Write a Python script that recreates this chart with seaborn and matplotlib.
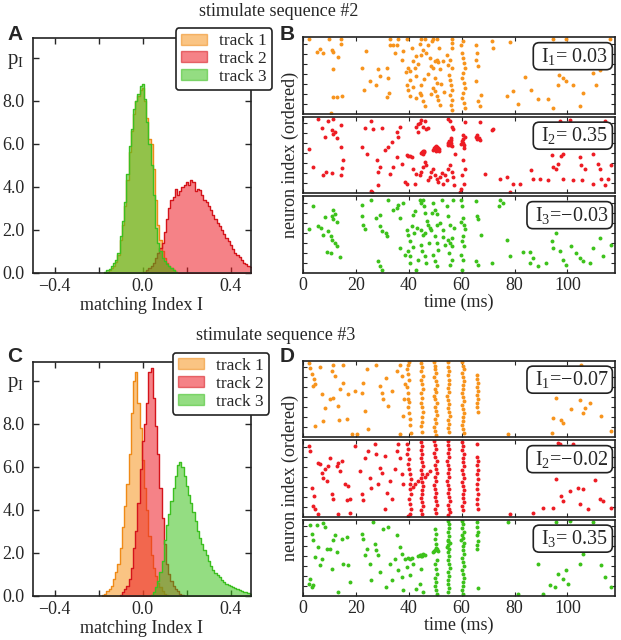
import numpy as np
import pandas as pd
import matplotlib
matplotlib.use('Agg')
import matplotlib.pyplot as plt
import seaborn as sns
from matplotlib.patches import Patch

# ---- histogram data (density per 0.01 bin, first bin centre given) ----
a1_start = -0.16
a1_dens = [0.05, 0.1, 0.2, 0.3, 0.5, 0.8, 1.5, 2.2, 3.1, 4.3, 5.6, 6.6, 7.4, 8.0, 8.2, 8.5,
           8.6, 8.0, 7.2, 6.2, 6.0, 4.8, 3.4, 2.2, 1.5, 1.0, 0.7, 0.45, 0.3, 0.2, 0.1, 0.05]
a2_start = 0.01
a2_dens = [0.05, 0.1, 0.2, 0.3, 0.45, 0.7, 0.9, 1.15, 1.4, 1.9, 2.5, 3.0, 3.4, 3.5, 3.9, 3.6,
           3.8, 4.0, 4.1, 4.2, 4.1, 4.3, 4.2, 3.8, 3.9, 3.85, 3.6, 3.4, 3.3, 3.1, 2.9, 2.7,
           2.5, 2.3, 2.15, 2.0, 1.8, 1.6, 1.45, 1.3, 1.1, 0.9, 0.8, 0.75, 0.6, 0.45, 0.4, 0.3, 0.25]
a3_start = -0.17
a3_dens = [0.05, 0.1, 0.15, 0.3, 0.45, 0.6, 0.9, 1.7, 2.4, 3.3, 4.6, 5.9, 6.7, 7.6, 8.0, 8.3,
           8.7, 8.8, 8.1, 7.0, 6.0, 5.0, 3.6, 2.1, 1.4, 1.0, 0.7, 0.55, 0.4, 0.3, 0.2, 0.1, 0.05]

c1_start = -0.18
c1_dens = [0.05, 0.1, 0.2, 0.3, 0.45, 0.8, 1.1, 1.5, 2.2, 3.2, 4.2, 5.2, 6.6, 8.5, 10.0, 10.4,
           9.0, 7.8, 6.3, 5.0, 4.0, 2.8, 1.9, 1.3, 0.9, 0.6, 0.4, 0.2, 0.1, 0.05]
c2_start = -0.10
c2_dens = [0.05, 0.15, 0.3, 0.45, 0.8, 1.3, 2.2, 3.0, 4.3, 5.9, 7.2, 8.0, 9.0, 10.4, 10.6, 9.2,
           7.9, 6.6, 5.0, 3.6, 2.4, 1.5, 1.0, 0.7, 0.45, 0.3, 0.2, 0.1, 0.05]
c3_start = 0.04
c3_dens = [0.05, 0.15, 0.4, 0.7, 1.1, 1.6, 2.6, 3.3, 3.8, 4.4, 5.0, 5.6, 6.1, 6.25, 6.0, 5.6,
           5.1, 4.7, 4.3, 3.9, 3.5, 3.0, 2.7, 2.4, 2.15, 1.9, 1.6, 1.4, 1.2, 1.05, 0.95, 0.85,
           0.75, 0.65, 0.55, 0.5, 0.45, 0.4, 0.35, 0.3, 0.25, 0.2, 0.18, 0.15, 0.12, 0.1]

# ---- raster data: (time in ms, neuron index) ----
b1_spikes = [
    (2.4, 75), (10, 75), (14.2, 75), (32.9, 75), (36, 75), (39.2, 75), (44.8, 75), (46.1, 75),
    (49.2, 75), (50.5, 75), (56.2, 75), (60.6, 73), (71.3, 73), (78.2, 72), (94.6, 75), (99.6, 75),
    (116, 75), (5.4, 62), (6.4, 65), (7.4, 61), (10.8, 64), (11.5, 62), (14.2, 70), (13.4, 57),
    (11.5, 45), (22.5, 46), (23.8, 63), (25.3, 33), (27.8, 29), (28.5, 45), (29.1, 38), (31.6, 46),
    (32.2, 36), (32.9, 69), (34.1, 69), (35.4, 69), (34.8, 61), (37.3, 54), (37.9, 63), (38.9, 42),
    (39.8, 46), (40.4, 43), (41.1, 66), (41.7, 53), (42.3, 46), (42.9, 38), (40.4, 34), (39.2, 29),
    (39.8, 24), (40.4, 18), (42.9, 16), (44.2, 21), (44.8, 19), (45.5, 13), (46.1, 8), (44.5, 29),
    (44.8, 59), (45.5, 64), (46.7, 61), (47.4, 69), (48, 56), (48.6, 48), (49.2, 46), (49.9, 53),
    (50.5, 54), (51.1, 52), (51.8, 45), (49.9, 36), (50.5, 31), (49.2, 26), (49.9, 23), (50.5, 18),
    (51.1, 14), (51.8, 9), (53, 53), (54.3, 59), (54.9, 49), (55.5, 54), (56.2, 46), (55.3, 39),
    (55.5, 34), (55.8, 29), (56.2, 24), (55.5, 19), (56.2, 14), (55.9, 9), (56.5, 4), (56.2, 66),
    (56.5, 71), (59.9, 69), (60.3, 61), (60.6, 56), (60.8, 51), (61.2, 46), (60.6, 41), (60.3, 36),
    (60.8, 31), (61.2, 26), (60.6, 21), (60.3, 16), (60.8, 11), (61.2, 6), (65.6, 69), (65.9, 61),
    (66.2, 48), (65.6, 54), (65.6, 33), (66.2, 13), (66.9, 8), (67.5, 19), (71.9, 66), (77, 18),
    (79.5, 23), (81.4, 10), (83.9, 37), (86.4, 24), (88.9, 15), (92.7, 15), (94.6, 6), (96.5, 29),
    (96.9, 39), (98.4, 36), (99.6, 33), (102.1, 29), (104.7, 8), (105.9, 21), (109.7, 41),
    (111, 29), (112.2, 44), (11.2, 17), (13, 17), (14.6, 18), (23.2, 24), (31.9, 17), (32.6, 21),
    (10.6, 1), (43.5, 50), (47.2, 40), (52.3, 30), (45.8, 35), (41.5, 27), (48.3, 20), (53.5, 22),
    (44.1, 70), (51.5, 66), (48.8, 73), (42.6, 58)]

b2_spikes = [
    (2.4, 44), (3.7, 26), (5.8, 75), (7.1, 65), (8.3, 56), (9.6, 73), (10.8, 63), (11.5, 75),
    (11.5, 59), (12.1, 61), (12.7, 55), (14.2, 68), (14.2, 46), (14.6, 25), (14.2, 18), (8.7, 21),
    (10.8, 20), (7.7, 18), (15.2, 33), (22.2, 46), (23.4, 65), (24.1, 39), (25.9, 73), (26.6, 64),
    (28.1, 33), (28.5, 21), (29.1, 26), (28.5, 8), (25.6, 2), (29.7, 65), (31, 43), (32.2, 46),
    (32.9, 19), (33.5, 51), (34.1, 26), (35.4, 36), (35.4, 61), (36, 56), (36.6, 66), (37.3, 29),
    (38.5, 11), (39.2, 9), (39.2, 38), (39.8, 37), (40.4, 37), (41.1, 36), (41.7, 24), (42.3, 9),
    (42.9, 66), (43.6, 69), (44.2, 71), (44.8, 74), (46.1, 73), (45.5, 66), (46.7, 64), (47.4, 65),
    (43.6, 61), (42.9, 19), (44.2, 18), (44.8, 21), (45.5, 26), (46.1, 31), (46.7, 28), (47.4, 13),
    (48, 16), (48.6, 21), (49.2, 24), (49.9, 18), (50.5, 14), (51.1, 11), (51.8, 16), (52.4, 20),
    (53, 9), (54.3, 13), (53.7, 18), (54.9, 24), (55.5, 28), (56.2, 21), (56.8, 16), (57.1, 8),
    (57.4, 39), (55.5, 73), (54.9, 75), (56.2, 66), (56.8, 64),
    (45, 40), (45.3, 42), (45.6, 41), (45.1, 41.5), (45.5, 39.5), (44.8, 40.5), (45.8, 42.5),
    (49.5, 45), (50, 44), (50.5, 43), (51, 45), (49.8, 46), (50.3, 42), (51.3, 44), (50.7, 46.5),
    (49.2, 43.5), (51.6, 42.5), (50.2, 47.5),
    (55, 50), (55.5, 48), (56, 50), (55.3, 52), (56.3, 47), (55.8, 53), (54.7, 48.5), (56.1, 55),
    (60.2, 52), (60.6, 50), (61, 48), (60.4, 54), (61.2, 56), (60.8, 45), (60.5, 58), (59.9, 49),
    (65.5, 56), (66, 54), (66.5, 55), (65.8, 58), (67, 53), (71.3, 63), (72, 64),
    (60.6, 33), (61.2, 24), (60.3, 18), (60.8, 9), (59.9, 4), (59.3, 1), (61.2, 72), (66.9, 72),
    (68.8, 19), (74.4, 14), (77, 16), (82, 9), (86.4, 23), (87, 14), (89.6, 14), (92.7, 13),
    (94, 38), (94.6, 26), (95.8, 24), (96.5, 29), (97.7, 37), (98.4, 39), (98.4, 14), (95.8, 69),
    (97.1, 73), (100.9, 74), (102.1, 13), (104.7, 36), (105.3, 28), (105.7, 13), (106.5, 24),
    (109.7, 39), (109.7, 9), (111.6, 29), (112.2, 24), (112.8, 14), (114.1, 73), (114.1, 8),
    (115.4, 14), (116.6, 28), (79.5, 9), (78.2, 1), (26, 1)]

b3_spikes = [
    (3.9, 67), (2.4, 44), (5.8, 47), (6.7, 45), (7.4, 38), (8.3, 56), (9.6, 42), (10.5, 37),
    (10.8, 57), (11.5, 63), (12.1, 59), (11.5, 54), (12.7, 51), (10.8, 33), (12.1, 30), (13, 27),
    (9, 21), (10.5, 20), (14, 16), (22.2, 68), (25.9, 73), (22.8, 48), (23.4, 44), (22.2, 57),
    (27.8, 55), (29.1, 58), (29.3, 47), (29.7, 42), (31.4, 40), (31.6, 37), (28.5, 12), (29.1, 7),
    (29.7, 3), (32.2, 73), (34.1, 63), (35.4, 65), (36, 68), (36.6, 55), (37.9, 70), (36.6, 25),
    (38.5, 18), (39.2, 43), (39.8, 38), (40.4, 32), (39.8, 22), (40.4, 17), (40.4, 10), (41.1, 47),
    (41.7, 58), (42.3, 62), (42.9, 3), (43.6, 13), (44.2, 73), (44.8, 70), (45.5, 73), (45.7, 67),
    (46.1, 60), (44.8, 43), (45.5, 38), (46.1, 40), (44.8, 28), (45.2, 22), (46.1, 17), (46.7, 10),
    (47.4, 48), (48, 45), (48.6, 43), (49.2, 70), (49.9, 63), (50.5, 59), (50.5, 48), (49.9, 37),
    (50.5, 30), (51.1, 23), (49.2, 18), (49.9, 12), (50.5, 7), (51.8, 50), (52.4, 73), (53, 43),
    (54.3, 67), (54.9, 57), (55.5, 48), (54.9, 33), (55.5, 30), (56.2, 27), (55.3, 20), (56.2, 13),
    (55.5, 8), (56.8, 73), (56.2, 35), (59.9, 73), (60.3, 67), (60.6, 55), (59.9, 51), (60.8, 48),
    (60.6, 37), (60.3, 32), (60.8, 27), (59.9, 18), (60.6, 13), (60.3, 3), (65.6, 72), (65.9, 57),
    (66.2, 54), (65.6, 12), (66.2, 8), (67.5, 38), (71.3, 10), (74.2, 67), (75.7, 70), (77, 33),
    (78.2, 17), (83.2, 21), (85.8, 21), (85.8, 10), (87, 15), (88.9, 7), (92.1, 10), (94, 32),
    (94.6, 25), (95.8, 40), (97.1, 22), (98.4, 13), (99.6, 8), (101.5, 27), (103.4, 20),
    (104.7, 15), (105.9, 12), (108.4, 10), (109.7, 25), (112.2, 35), (113.5, 17), (116.6, 28),
    (74.4, 73), (43.2, 45), (47.8, 30), (52.8, 36), (42.1, 40), (48.9, 60), (53.6, 28), (46.9, 52),
    (41.6, 26), (57.2, 45), (61.1, 44)]

d1_spikes = [
    (2.4, 75), (3.3, 63), (3.7, 51), (4.5, 53), (4.2, 58), (2.6, 69), (4.5, 11), (6.4, 71),
    (7.1, 43), (7.7, 16), (8.3, 29), (10.2, 38), (10.8, 66), (11.5, 73), (11.5, 39), (12.1, 61),
    (13.4, 31), (14, 48), (13.7, 17), (15, 73), (15.2, 54), (16.5, 18), (17.1, 43), (18.4, 3),
    (19.6, 46), (20.3, 3), (22.2, 44), (22.8, 54), (23.4, 26), (24.7, 8), (24.1, 68), (27.8, 73),
    (29.1, 51), (29.7, 44), (30.4, 38), (31.4, 59), (32.2, 31), (33.5, 46), (35.4, 66), (36.6, 73),
    (37.3, 61), (38.2, 38), (38.5, 53), (37.9, 21), (36.6, 3),
    (40.8, 4), (40.5, 12), (40.3, 18), (40, 24), (39.8, 30), (40.2, 35), (39.6, 38), (39.9, 44),
    (39.5, 50), (40.1, 57), (39.7, 63), (39.4, 68), (39.6, 73), (40, 76),
    (44.6, 75), (45, 70), (44.8, 66), (45.3, 61), (44.5, 57), (45, 53), (45.5, 48), (44.8, 44),
    (45.2, 39), (44.6, 34), (45, 30), (45.4, 25), (44.9, 20), (45.2, 15), (44.7, 11), (45, 5),
    (49.5, 76), (50, 72), (49.8, 68), (50.4, 64), (49.6, 60), (50.2, 56), (50.6, 52), (49.9, 48),
    (50.3, 45), (49.7, 41), (50.1, 38), (50.5, 34), (49.8, 30), (50.2, 26), (50.6, 22), (49.9, 18),
    (50.3, 14), (49.7, 10), (50, 6), (50.4, 2),
    (54.8, 76), (55, 71), (55.3, 66), (54.7, 62), (55.1, 57), (55.4, 53), (54.9, 49), (55.2, 45),
    (54.6, 41), (55, 37), (55.3, 33), (54.8, 29), (55.1, 25), (55.5, 21), (54.9, 17), (55.2, 13),
    (55, 9), (55.3, 5),
    (60.2, 76), (60.5, 72), (60.8, 68), (60.3, 64), (60.6, 60), (61, 56), (60.4, 52), (60.7, 48),
    (60.2, 44), (60.5, 40), (60.9, 36), (60.3, 32), (60.6, 28), (61, 24), (60.4, 20), (60.7, 16),
    (60.2, 12), (60.5, 8), (60.8, 4),
    (65.8, 62), (66, 58), (66.2, 54), (65.9, 50), (66.1, 46), (65.8, 42), (66.2, 38), (66, 34),
    (65.9, 30), (66.1, 25),
    (77.6, 3), (94.6, 19), (95.8, 39), (97.7, 17), (98.4, 14), (94, 4), (101.5, 28), (104.7, 37),
    (105.9, 24), (106.5, 29), (108.4, 34), (112.8, 21), (116.6, 6), (105.3, 73)]

d2_spikes = [
    (2.4, 71), (2.6, 66), (3.3, 29), (4.2, 21), (3.7, 11), (4.5, 8), (5.8, 54), (6.4, 53),
    (7.1, 44), (7.7, 39), (8.3, 48), (8.9, 36), (9.6, 51), (10.2, 59), (10.8, 23), (11.5, 18),
    (12.7, 51), (13.4, 54), (14, 46), (14.6, 56), (15.9, 33), (16.5, 17), (17.1, 31), (17.8, 18),
    (19.6, 71), (21.5, 46), (22.2, 23), (22.8, 17), (23.4, 59), (24.7, 66), (25.3, 39), (25.9, 29),
    (27.2, 73), (27.8, 63), (28.5, 33), (29.1, 49), (29.7, 44), (31, 61), (31.6, 24), (32.9, 36),
    (33.5, 18), (34.8, 48), (35.4, 66), (36, 73), (36.6, 59), (37.3, 43), (37.9, 33), (31, 8),
    (13.4, 3), (5.8, 3), (17.8, 4),
    (39.5, 73), (39.8, 68), (39.4, 63), (40, 58), (39.7, 53), (40.2, 48), (40.5, 43), (40.8, 38),
    (40.3, 33), (40.6, 28), (41, 23), (40.2, 18), (40.5, 13), (40.8, 8), (40.3, 3), (39.6, 1),
    (44.5, 75), (45, 71), (44.8, 67), (45.2, 63), (44.6, 59), (45, 55), (45.4, 51), (44.8, 47),
    (45.2, 43), (44.6, 39), (45, 35), (45.5, 31), (44.9, 27), (45.2, 23), (44.7, 19), (45.1, 15),
    (45.4, 11), (44.8, 7), (45, 3),
    (49.6, 76), (50, 72), (50.3, 68), (49.7, 64), (50.1, 60), (50.5, 56), (49.8, 52), (50.2, 48),
    (50.6, 44), (49.9, 40), (50.3, 36), (49.6, 32), (50, 28), (50.4, 24), (49.8, 20), (50.2, 16),
    (50.6, 12), (49.9, 8), (50.3, 4),
    (55, 76), (54.7, 72), (55.2, 68), (54.9, 64), (55.3, 60), (54.6, 56), (55, 52), (55.4, 48),
    (54.8, 44), (55.2, 40), (54.6, 36), (55, 32), (55.3, 28), (54.8, 24), (55.1, 20), (55.5, 16),
    (54.9, 12), (55.2, 8), (55.6, 5), (55, 2),
    (60.3, 75), (60.6, 71), (60.2, 67), (60.8, 63), (60.4, 59), (60.7, 55), (61, 51), (60.3, 47),
    (60.6, 43), (60.9, 39), (60.2, 35), (60.5, 31), (60.8, 27), (60.4, 23), (60.7, 19), (61, 15),
    (60.3, 11), (60.6, 7),
    (65.8, 73), (66, 60), (66.2, 56), (65.9, 52), (66.1, 47), (65.8, 43), (66.2, 38), (66, 33),
    (65.9, 28), (66.1, 23), (66, 18), (65.8, 13), (66.1, 8),
    (41.5, 30), (42.5, 33), (43.5, 36), (46, 40), (47, 43), (48, 46),
    (78.2, 3), (87, 4), (90.8, 9), (95.8, 38), (96.5, 74), (97.7, 21), (98.4, 16), (100.9, 26),
    (102.1, 73), (104, 29), (105.9, 28), (107.8, 8), (110.3, 37), (112.2, 18), (113.5, 16),
    (116.6, 9), (104.7, 13), (94.6, 9), (97.1, 73)]

d3_spikes = [
    (2.6, 71), (3.3, 62), (3.9, 56), (5.2, 71), (5.8, 49), (6.4, 31), (4.5, 39), (7.1, 37),
    (7.7, 73), (8.3, 69), (9, 47), (10.2, 47), (10.8, 27), (11.5, 56), (12.1, 61), (12.7, 44),
    (13.4, 4), (14.6, 57), (15.2, 32), (16.5, 59), (17.1, 31), (17.8, 14), (2.4, 12), (3.3, 9),
    (3.9, 11), (2.6, 17), (22.2, 62), (22.8, 57), (23.4, 41), (24.1, 47), (25.3, 32), (25.9, 16),
    (26.6, 74), (27.2, 52), (27.8, 46), (28.5, 41), (29.1, 24), (30.4, 67), (31.4, 9), (32.2, 69),
    (32.9, 32), (33.5, 16), (34.8, 37), (35.4, 61), (36, 26), (36.6, 49), (37.3, 42), (37.3, 19),
    (37.9, 6), (38.5, 37), (39.2, 29), (40.4, 21), (41.7, 32), (42.9, 7), (44.2, 12), (44.8, 27),
    (45.5, 4),
    (39.8, 38), (40.4, 37), (41.1, 38), (43.6, 40), (44.2, 41), (44.8, 41), (45.5, 42), (46.1, 41),
    (44.5, 40), (45.2, 40.5), (49.2, 44), (49.9, 46), (50.5, 47), (51.1, 45), (49.6, 45),
    (50.2, 48), (54.3, 49), (54.9, 51), (55.5, 53), (55.3, 47), (55, 55), (59.9, 56), (60.6, 58),
    (60.3, 61), (60.8, 53),
    (50, 67), (50.3, 62), (49.8, 57), (50.2, 52), (50.5, 36), (49.9, 32), (50.3, 27), (50.6, 22),
    (50, 18), (50.4, 14), (49.8, 10), (50.2, 6), (50.5, 2),
    (54.8, 76), (55.1, 72), (55.4, 68), (54.9, 64), (55.2, 60), (54.7, 56), (55, 44), (55.3, 40),
    (54.8, 36), (55.1, 32), (55.5, 28), (54.9, 24), (55.2, 20), (54.8, 16), (55, 12), (55.3, 8),
    (55, 4),
    (60.3, 76), (60.6, 72), (60.2, 68), (60.8, 64), (60.4, 50), (60.7, 46), (61, 42), (60.3, 38),
    (60.6, 34), (60.9, 30), (60.2, 26), (60.5, 22), (60.8, 18), (60.4, 14), (60.7, 10), (60.3, 6),
    (60.6, 2),
    (65.8, 74), (66, 69), (66.2, 64), (65.9, 61), (66.1, 55), (65.8, 51), (66, 47), (66.1, 8),
    (77.6, 74), (81.4, 2), (88.9, 32), (90.8, 2), (93.3, 11), (95.2, 9), (96.5, 22), (98.4, 17),
    (99.6, 26), (100.2, 12), (100.9, 76), (104.7, 32), (105.9, 42), (106.5, 47), (109.7, 74),
    (112.8, 31), (114.1, 19), (116.6, 9), (95.8, 74)]

labels = ['track 1', 'track 2', 'track 3']
fills = ['#f7941d', '#ed1c24', '#3dc21b']
edges = ['#ef8a17', '#d4141b', '#3cbf20']

b_index = [' I$_1$= 0.03 ', ' I$_2$= 0.35 ', ' I$_3$=\u22120.03 ']
d_index = [' I$_1$=\u22120.07 ', ' I$_2$=\u22120.02 ', ' I$_3$= 0.35 ']

sns.set_style('ticks')
plt.rcParams['font.family'] = ['Liberation Serif', 'DejaVu Serif']
plt.rcParams['mathtext.default'] = 'regular'
plt.rcParams['axes.linewidth'] = 1.2
plt.rcParams['axes.edgecolor'] = '#222222'
plt.rcParams['xtick.direction'] = 'in'
plt.rcParams['ytick.direction'] = 'in'

fig = plt.figure(figsize=(6.21, 6.40), dpi=100)


def draw_hist(rect, series, legend_anchor):
    ax = fig.add_axes(rect)
    for (start, dens), fc, ec in zip(series, fills, edges):
        centers = start + 0.01 * np.arange(len(dens))
        bins = list(np.append(centers - 0.005, centers[-1] + 0.005))
        df = pd.DataFrame({'index': centers, 'density': dens})
        sns.histplot(data=df, x='index', weights='density', bins=bins, element='step',
                     fill=True, color=fc, alpha=0.55, edgecolor=ec, linewidth=1.0, ax=ax)
    ax.set_xlim(-0.5, 0.49)
    ax.set_ylim(0, 10.9)
    ax.set_xticks([-0.4, -0.2, 0.0, 0.2, 0.4])
    ax.set_xticklabels(['\u22120.4', '', '0.0', '', '0.4'])
    ax.set_yticks([0, 2, 4, 6, 8, 10])
    ax.set_yticklabels(['0.0', '2.0', '4.0', '6.0', '8.0', 'p$_I$'])
    ax.tick_params(top=True, right=True, labelsize=13, length=4, width=1)
    ax.tick_params(axis='y', pad=6)
    ax.tick_params(axis='x', pad=4)
    ax.get_yticklabels()[-1].set_fontsize(15)
    ax.set_ylabel('')
    ax.set_xlabel('matching Index I', fontsize=13, labelpad=1)
    handles = [Patch(facecolor=fc, edgecolor=ec, alpha=0.55, lw=1) for fc, ec in zip(fills, edges)]
    leg = ax.legend(handles, labels, loc='upper right', bbox_to_anchor=legend_anchor,
                    borderaxespad=0, fontsize=12.5, frameon=True, fancybox=True,
                    handlelength=1.5, handleheight=0.6, handletextpad=0.7,
                    labelspacing=0.1, borderpad=0.3)
    leg.get_frame().set_edgecolor('#222222')
    leg.get_frame().set_linewidth(1.2)
    leg.get_frame().set_alpha(1)
    return ax


def draw_raster(left, bottoms, height, spikes_list, texts):
    axes = []
    for i, (spikes, fc, txt) in enumerate(zip(spikes_list, fills, texts)):
        ax = fig.add_axes([left, bottoms[i], 0.5024, height])
        df = pd.DataFrame(spikes, columns=['time', 'neuron'])
        sns.scatterplot(data=df, x='time', y='neuron', color=fc, s=8, linewidth=0, ax=ax)
        ax.set_xlim(0, 118)
        ax.set_ylim(0, 77)
        ax.set_xticks([0, 20, 40, 60, 80, 100])
        ax.set_yticks([10, 20, 30, 40, 50, 60, 70])
        ax.set_yticklabels([])
        ax.set_ylabel('')
        ax.tick_params(top=True, right=True, length=3, width=0.8, labelsize=13, pad=3)
        if i < 2:
            ax.set_xticklabels([])
            ax.set_xlabel('')
        else:
            ax.set_xlabel('time (ms)', fontsize=13, labelpad=0)
        ax.text(0.982, 0.75, txt, transform=ax.transAxes, ha='right', va='center', fontsize=14.5,
                bbox=dict(boxstyle='round,pad=0.15,rounding_size=0.3', fc='white', ec='#222222', lw=1.2))
        axes.append(ax)
    return axes


hist_a = draw_hist([0.0527, 0.574, 0.351, 0.366],
                   [(a1_start, a1_dens), (a2_start, a2_dens), (a3_start, a3_dens)], (1.098, 1.044))
hist_c = draw_hist([0.0527, 0.0692, 0.351, 0.3656],
                   [(c1_start, c1_dens), (c2_start, c2_dens), (c3_start, c3_dens)], (1.085, 1.038))

draw_raster(0.4879, [0.8226, 0.6984, 0.5742], 0.1195, [b1_spikes, b2_spikes, b3_spikes], b_index)
draw_raster(0.4879, [0.31715, 0.19295, 0.06875], 0.1195, [d1_spikes, d2_spikes, d3_spikes], d_index)

fig.text(279 / 621, 1 - 12 / 640, 'stimulate sequence #2', ha='center', va='center', fontsize=13)
fig.text(276 / 621, 1 - 336 / 640, 'stimulate sequence #3', ha='center', va='center', fontsize=13)
fig.text(290 / 621, 1 - 155 / 640, 'neuron index (ordered)', rotation=90, ha='center', va='center', fontsize=13)
fig.text(290 / 621, 1 - 478 / 640, 'neuron index (ordered)', rotation=90, ha='center', va='center', fontsize=13)

for letter, x, y in [('A', 7, 35), ('B', 280, 35), ('C', 7, 357), ('D', 280, 357)]:
    fig.text(x / 621, 1 - y / 640, letter, ha='left', va='center', fontsize=15,
             fontweight='bold', family=['Liberation Sans', 'DejaVu Sans'])

fig.savefig('out.png', dpi=100)
